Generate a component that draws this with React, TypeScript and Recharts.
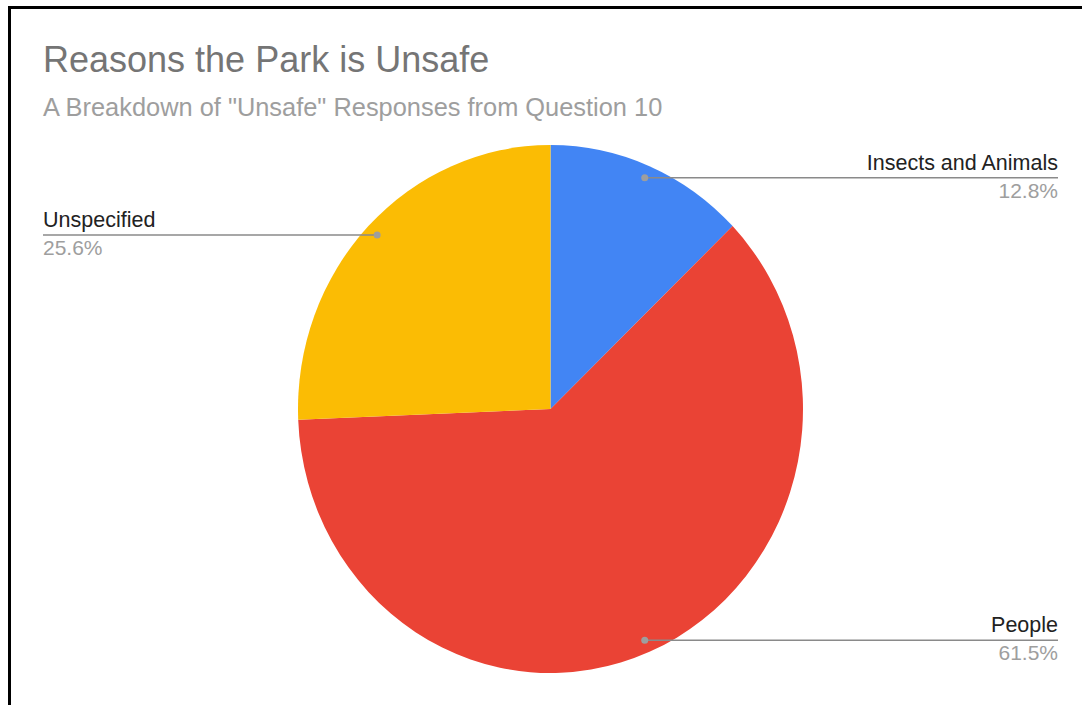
import React from 'react';
import { PieChart, Pie, Cell } from 'recharts';

const categories = ['Insects and Animals', 'People', 'Unspecified'];
const counts = [5, 24, 10];
const colors = ['#4285F4', '#EA4335', '#FBBC04'];
const titleText = 'Reasons the Park is Unsafe';
const subtitleText = 'A Breakdown of "Unsafe" Responses from Question 10';

const data = categories.map((name, i) => ({ name, value: counts[i] }));

const W = 1082;
const H = 705;
const CX = 550.5;
const CY = 409;
const RADIUS = 264;
const X_SCALE = 252.5 / 264;
const DOT_FRAC = 0.952;
const LEFT_EDGE = 43;
const RIGHT_EDGE = 1058;
const FONT = '"Liberation Sans", Arial, sans-serif';

const renderLabel = (props: any) => {
  const { cx, cy, midAngle, outerRadius, percent, name } = props;
  const rad = Math.PI / 180;
  const r = outerRadius * DOT_FRAC;
  const x = cx + r * Math.cos(-midAngle * rad) * X_SCALE;
  const y = cy + r * Math.sin(-midAngle * rad);
  const right = x > cx;
  const edge = right ? RIGHT_EDGE : LEFT_EDGE;
  const anchor = right ? 'end' : 'start';
  return (
    <g>
      <line x1={x} y1={y} x2={edge} y2={y} stroke="#8a8a8a" strokeWidth={1.5} />
      <circle cx={x} cy={y} r={3.5} fill="#9e9e9e" />
      <text x={edge} y={y - 8} textAnchor={anchor} fontFamily={FONT} fontSize={21.5} fill="#222222">
        {name}
      </text>
      <text x={edge} y={y + 20} textAnchor={anchor} fontFamily={FONT} fontSize={21} fill="#9e9e9e">
        {(percent * 100).toFixed(1) + '%'}
      </text>
    </g>
  );
};

export default function App() {
  return (
    <div style={{ position: 'fixed', left: 0, top: 0, width: W, height: H, overflow: 'hidden', background: '#fff' }}>
      <div
        style={{
          position: 'absolute',
          left: 8,
          top: 6,
          width: 1200,
          height: 800,
          borderLeft: '3px solid #000',
          borderTop: '3px solid #000',
        }}
      />
      <svg style={{ position: 'absolute', left: 0, top: 0 }} width={W} height={140}>
        <text x={43} y={72} fontFamily={FONT} fontSize={36} fill="#757575">
          {titleText}
        </text>
        <text x={43} y={116} fontFamily={FONT} fontSize={25.4} fill="#9e9e9e">
          {subtitleText}
        </text>
      </svg>
      <div
        style={{
          position: 'absolute',
          left: 0,
          top: 0,
          width: W,
          height: H,
          transform: `scaleX(${X_SCALE})`,
          transformOrigin: `${CX}px ${CY}px`,
        }}
      >
        <PieChart width={W} height={H} margin={{ top: 0, right: 0, bottom: 0, left: 0 }}>
          <Pie
            data={data}
            dataKey="value"
            nameKey="name"
            cx={CX}
            cy={CY}
            outerRadius={RADIUS}
            startAngle={90}
            endAngle={-270}
            stroke="none"
            isAnimationActive={false}
          >
            {data.map((d, i) => (
              <Cell key={d.name} fill={colors[i]} />
            ))}
          </Pie>
        </PieChart>
      </div>
      <div style={{ position: 'absolute', left: 0, top: 0, width: W, height: H }}>
        <PieChart width={W} height={H} margin={{ top: 0, right: 0, bottom: 0, left: 0 }}>
          <Pie
            data={data}
            dataKey="value"
            nameKey="name"
            cx={CX}
            cy={CY}
            outerRadius={RADIUS}
            startAngle={90}
            endAngle={-270}
            fill="transparent"
            stroke="none"
            label={renderLabel}
            labelLine={false}
            isAnimationActive={false}
          >
            {data.map((d) => (
              <Cell key={d.name} fill="transparent" />
            ))}
          </Pie>
        </PieChart>
      </div>
    </div>
  );
}
